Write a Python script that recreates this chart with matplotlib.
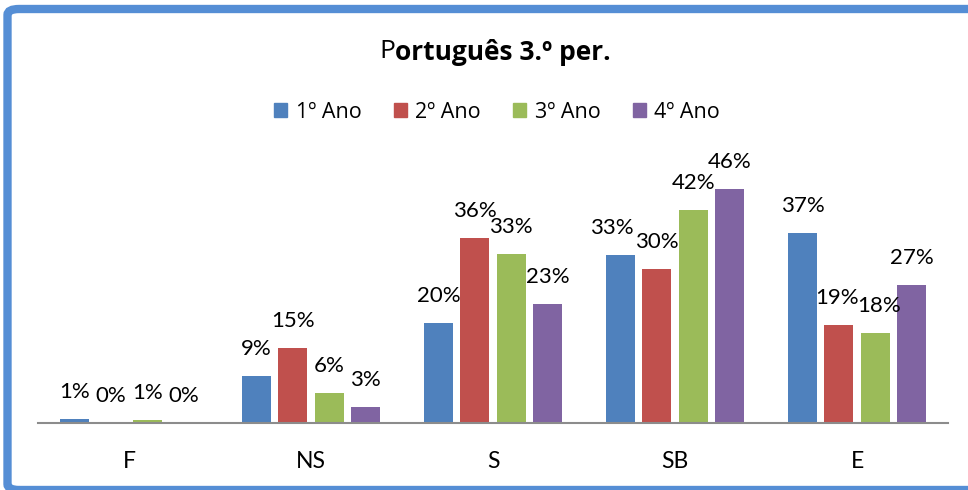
import matplotlib.pyplot as plt
from matplotlib.patches import Patch, FancyBboxPatch
import numpy as np

plt.rcParams['font.family'] = ['Lato', 'DejaVu Sans']

categories = ['F', 'NS', 'S', 'SB', 'E']
series = ['1º Ano', '2º Ano', '3º Ano', '4º Ano']
ano1 = [0.8, 9.2, 19.6, 33.0, 37.4]
ano2 = [0.0, 14.7, 36.4, 30.3, 19.3]
ano3 = [0.5, 5.9, 33.2, 41.8, 17.7]
ano4 = [0.0, 3.1, 23.4, 46.0, 27.1]
labels1 = ['1%', '9%', '20%', '33%', '37%']
labels2 = ['0%', '15%', '36%', '30%', '19%']
labels3 = ['1%', '6%', '33%', '42%', '18%']
labels4 = ['0%', '3%', '23%', '46%', '27%']
colors = ['#4F81BD', '#C0504D', '#9BBB59', '#8064A2']

W, H = 968, 490
fig = plt.figure(figsize=(W / 100, H / 100), dpi=100)
ax = fig.add_axes([38 / W, (H - 423) / H, 910 / W, 254.5 / H])

# small horizontal nudges of some labels, (series, category) -> points
nudge = {(0, 3): -6, (1, 4): -1.5, (2, 4): 2.5}

x = np.arange(len(categories))
data = [ano1, ano2, ano3, ano4]
labs = [labels1, labels2, labels3, labels4]
for i in range(4):
    pos = x + (i - 1.5) * 0.2
    ax.bar(pos, data[i], width=0.16, color=colors[i], zorder=2)
    for j, (p, v, t) in enumerate(zip(pos, data[i], labs[i])):
        ax.annotate(t, (p, v), xytext=(nudge.get((i, j), 0), 19.5), textcoords='offset points',
                    ha='center', va='center', fontsize=16, annotation_clip=False)

ax.set_xlim(-0.5, 4.5)
ax.set_ylim(0, 50)
ax.set_xticks(x)
ax.set_xticklabels(categories, fontsize=16.5)
ax.tick_params(axis='x', length=0, pad=20)
ax.set_yticks([])
for s in ['top', 'right', 'left']:
    ax.spines[s].set_visible(False)
ax.spines['bottom'].set_color('#8c8c8c')
ax.spines['bottom'].set_linewidth(1.5)

# title: plain "P" then bold rest
x0 = 395 / W
ty = 1 - 52 / H
fig.text(x0, ty, 'P', ha='right', va='center', fontsize=19, family=['Open Sans', 'DejaVu Sans'])
fig.text(x0, ty, 'ortuguês 3.º per.', ha='left', va='center', fontsize=19,
         fontweight='bold', family=['Open Sans', 'DejaVu Sans'])

handles = [Patch(color=c) for c in colors]
fig.legend(handles, series, loc='center', bbox_to_anchor=(497 / W, 1 - 112 / H), ncol=4,
           frameon=False, prop={'family': ['Open Sans', 'DejaVu Sans'], 'size': 15.5},
           handlelength=0.6, handleheight=0.6, handletextpad=0.4, columnspacing=1.5)

border = FancyBboxPatch((7.5 / W, 0 / H), 1.2, (H - 9) / H,
                        boxstyle='round,pad=0,rounding_size=0.012',
                        transform=fig.transFigure, fill=False,
                        edgecolor='#558ED5', linewidth=6, clip_on=False)
fig.patches.append(border)

fig.savefig('out.png', dpi=100)
